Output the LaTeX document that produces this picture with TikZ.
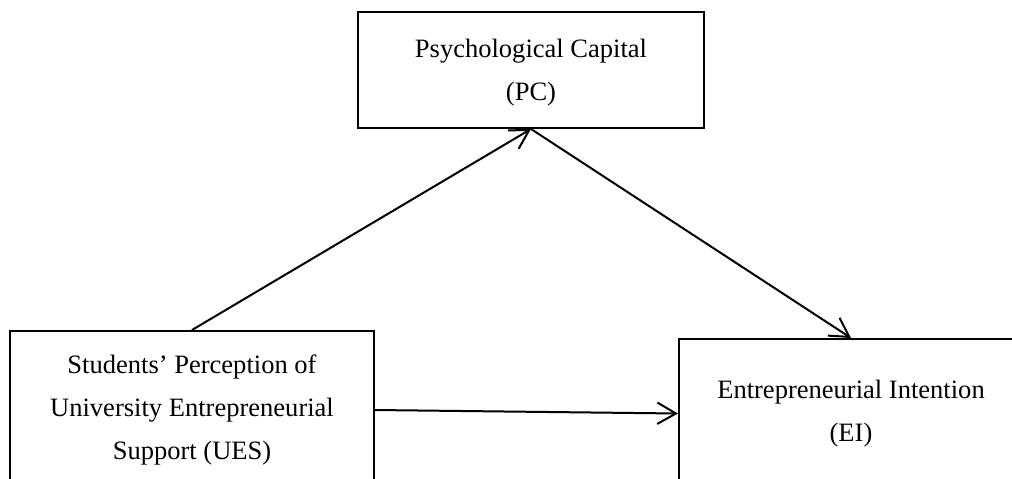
\documentclass[tikz,border=0pt]{standalone}
\usepackage{fontspec}
\setmainfont{Liberation Serif}
\usetikzlibrary{arrows.meta}
\begin{document}
\begin{tikzpicture}[x=0.75pt,y=-0.75pt,
  box/.style={draw=black, line width=1.5pt, inner sep=0pt, align=center,
    font=\fontsize{19.9}{32.25}\selectfont},
  arr/.style={draw=black, line width=1.5pt, -{Straight Barb[length=14pt,width=16pt,line width=1.5pt]}}]
\useasboundingbox (0,0) rectangle (1012,478);
\clip (0,0) rectangle (1012,478);
\fill[white] (0,0) rectangle (1012,478);
\node[box, minimum width=346*0.75pt, minimum height=116*0.75pt, text depth=0pt] (PC) at (531,70) {Psychological Capital\\(PC)\rule[-5pt]{0pt}{0pt}};
\node[box, minimum width=364*0.75pt, minimum height=158*0.75pt] (UES) at (192,410) {Students’ Perception of\\University Entrepreneurial\\Support (UES)};
\node[box, minimum width=344*0.75pt, minimum height=149*0.75pt] (EI) at (851,413.5) {Entrepreneurial Intention\\(EI)};
\draw[arr] (UES.north) -- (PC.south);
\draw[arr] (PC.south) -- (EI.north);
\draw[arr] (UES.east) -- (EI.west);
\end{tikzpicture}
\end{document}
